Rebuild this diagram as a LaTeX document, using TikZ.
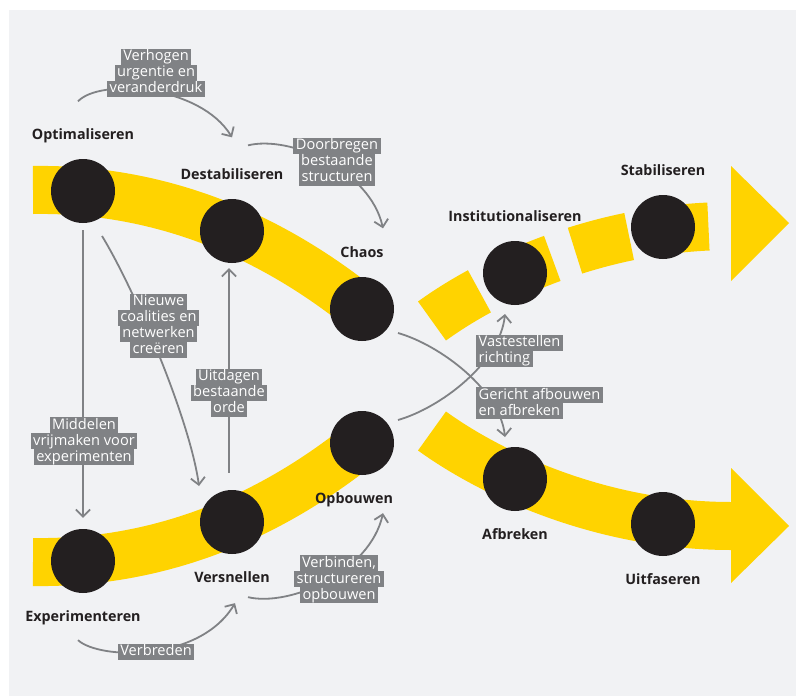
\documentclass[tikz,border=0pt]{standalone}
\usepackage{fontspec}
\setmainfont{Open Sans}
\usetikzlibrary{positioning,arrows.meta}
\definecolor{bggray}{HTML}{F1F2F4}
\definecolor{bandyellow}{HTML}{FFD300}
\definecolor{dotblack}{HTML}{231F20}
\definecolor{linegray}{HTML}{808285}
\newcommand\gtag[1]{{\setlength{\fboxsep}{0pt}\colorbox{linegray}{\rule[-4pt]{0pt}{16pt}\hspace{2.5pt}#1\hspace{2.5pt}}}}

\begin{document}
\begin{tikzpicture}[x=1pt,y=-1pt,
    bandline/.style={draw=bandyellow,line width=48pt},
    phasedot/.style={circle,fill=dotblack,minimum size=64pt,inner sep=0pt},
    phase/.style={font=\bfseries\fontsize{14.3}{16}\selectfont,text=dotblack,inner sep=0pt,text height=10pt,text depth=2.5pt},
    conn/.style={draw=linegray,line width=1.8pt},
    barb/.style={-{Straight Barb[angle=90:10pt]}},
    note/.style={text=white,font=\fontsize{14.6}{16}\selectfont,inner sep=0pt,align=center}]
        \useasboundingbox (0,0) rectangle (796,696);
        \fill[white] (0,0) rectangle (796,696);
        \fill[bggray] (9,10) rectangle (796,696);
        \draw[bandline] (33,190) .. controls (160,188) and (270,235) .. (362,309);
        \draw[bandline] (33,562) .. controls (160,564) and (270,517) .. (362,443);
        \draw[bandline] (432,431) .. controls (490,473) and (600,526) .. (731,526);
        \fill[bandyellow] (731,468) -- (731,583) -- (789,526) -- cycle;
        \draw[bandline,dash pattern=on 56pt off 24pt] (432,321) .. controls (490,279) and (600,226) .. (731,226);
        \fill[bandyellow] (731,166) -- (731,281) -- (789,223) -- cycle;
        \node[phasedot] (opt) at (83,191) {};
        \node[phasedot] (dest) at (232,231) {};
        \node[phasedot] (chaos) at (362,309) {};
        \node[phasedot] (exp) at (83,561) {};
        \node[phasedot] (vers) at (232,522) {};
        \node[phasedot] (opb) at (362,443) {};
        \node[phasedot] (inst) at (515,273) {};
        \node[phasedot] (stab) at (663,227) {};
        \node[phasedot] (afb) at (515,479) {};
        \node[phasedot] (uitf) at (663,524) {};
        \node[phase,above=17pt of opt] (optT) {Optimaliseren};
        \node[phase,above=17pt of dest] (destT) {Destabiliseren};
        \node[phase,above=17pt of chaos] (chaosT) {Chaos};
        \node[phase,above=17pt of inst] (instT) {Institutionaliseren};
        \node[phase,above=17pt of stab] (stabT) {Stabiliseren};
        \node[phase,below=18.5pt of exp] (expT) {Experimenteren};
        \node[phase,below=18.5pt of vers] (versT) {Versnellen};
        \node[phase,below=18.5pt of opb,xshift=-8pt] (opbT) {Opbouwen};
        \node[phase,below=18.5pt of afb] (afbT) {Afbreken};
        \node[phase,below=18.5pt of uitf] (uitfT) {Uitfaseren};
        \draw[conn,barb] ([shift={(-5,-34)}]optT.center) .. controls (100,78) and (200,85) .. ([shift={(0,-38)}]destT.center);
        \draw[conn,barb] ([shift={(16,-30)}]destT.center) .. controls (290,135) and (370,170) .. ([shift={(21,-25)}]chaosT.center);
        \draw[conn,barb,shorten <=7pt,shorten >=11pt] (opt) -- (exp);
        \draw[conn,barb] ([shift={(19,45)}]opt.center) .. controls (135,290) and (190,420) .. ([shift={(-33,-36)}]vers.center);
        \draw[conn,barb,shorten <=17pt,shorten >=5pt] ([xshift=-3pt]vers.north) -- ([xshift=-3pt]dest.south);
        \draw[conn,barb] ([shift={(-5,22)}]expT.center) .. controls (100,660) and (200,662) .. ([shift={(3,24)}]versT.center);
        \draw[conn,barb] ([shift={(16,18)}]versT.center) .. controls (290,607) and (370,572) .. ([shift={(29,13)}]opbT.center);
        \draw[conn,barb] ([shift={(36,24)}]chaos.center) .. controls (440,345) and (500,390) .. ([shift={(-10,-42)}]afb.center);
        \draw[conn,barb] ([shift={(36,-23)}]opb.center) .. controls (440,408) and (500,363) .. ([shift={(-10,41)}]inst.center);
        \node[note] (urg) at (156,72.5) {\gtag{Verhogen}\\\gtag{urgentie en}\\\gtag{veranderdruk}};
        \node[note] (doorb) at (337,161.5) {\gtag{Doorbregen}\\\gtag{bestaande}\\\gtag{structuren}};
        \node[note] (coal) at (158.5,325.5) {\gtag{Nieuwe}\\\gtag{coalities en}\\\gtag{netwerken}\\\gtag{creëren}};
        \node[note] (uitd) at (229,392.5) {\gtag{Uitdagen}\\\gtag{bestaande}\\\gtag{orde}};
        \node[note] (midd) at (84,441) {\gtag{Middelen}\\\gtag{vrijmaken voor}\\\gtag{experimenten}};
        \node[note,anchor=west,align=left] (vast) at (476,350.5) {\gtag{Vastestellen}\\\gtag{richting}};
        \node[note,anchor=west,align=left] (geri) at (476,403) {\gtag{Gericht afbouwen}\\\gtag{en afbreken}};
        \node[note] (verb) at (339,579) {\gtag{Verbinden,}\\\gtag{structureren}\\\gtag{opbouwen}};
        \node[note] (bred) at (156,651.5) {\gtag{Verbreden}};
    \end{tikzpicture}
\end{document}
